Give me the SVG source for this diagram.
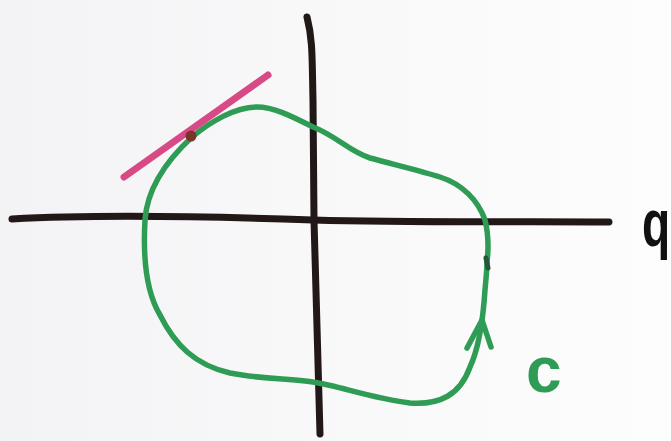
<svg xmlns="http://www.w3.org/2000/svg" width="671" height="441" viewBox="0 0 671 441">
<style>
.ax{fill:none;stroke:#221818;stroke-width:7;stroke-linecap:round;stroke-linejoin:round}
.gr{fill:none;stroke:#2f9c55;stroke-width:5.5;stroke-linecap:round;stroke-linejoin:round}
.lbl{font-family:"Liberation Sans",Arial,sans-serif;font-weight:bold}
</style>
<defs>
<linearGradient id="bg" x1="0" y1="0" x2="1" y2="0">
<stop offset="0" stop-color="#f3f3f6"/>
<stop offset="0.45" stop-color="#f8f8f9"/>
<stop offset="1" stop-color="#fdfdfd"/>
</linearGradient>
</defs>
<rect width="671" height="441" fill="url(#bg)"/>
<g id="axes">
<path class="ax" d="M 12,219 C 100,214 200,216 313,220 C 420,223 520,221 609,222"/>
<path class="ax" d="M 307,17 C 313,40 312,60 313,100 L 314,220 C 316,300 318,380 320,434"/>
</g>
<g id="curve-C">
<path class="gr" d="M 487,262 C 489,245 488,232 485,220 C 478,200 462,184 440,177 C 425,172 400,166 370,158 C 350,152 335,135 313,127 C 295,118 275,107 257,107 C 235,107 210,122 192,137 C 165,162 147,190 145,220 C 143,255 145,290 160,315 C 175,345 195,365 230,373 C 265,380 290,378 313,382 C 340,386 370,398 410,403 C 440,405 460,395 470,367 C 478,350 483,320 485,290 C 486,278 487,270 487,262"/>
<path d="M 486,258 L 488,268" stroke="#23563a" stroke-width="5" stroke-linecap="round"/>
<path class="gr" d="M 467,348 L 482,320 L 491,347"/>
</g>
<g id="tangent">
<path d="M 124,177 L 268,75" fill="none" stroke="#d74a86" stroke-width="7" stroke-linecap="round"/>
<circle cx="191" cy="136" r="5.5" fill="#7a3526"/>
</g>
<g id="label-q">
<text class="lbl" transform="translate(656,246) scale(0.7,1)" x="0" y="0" text-anchor="middle" font-size="66" fill="#111">q</text>
</g>
<g id="label-c">
<text class="lbl" x="526" y="392" font-size="64" fill="#2f9c55">c</text>
</g>
</svg>
